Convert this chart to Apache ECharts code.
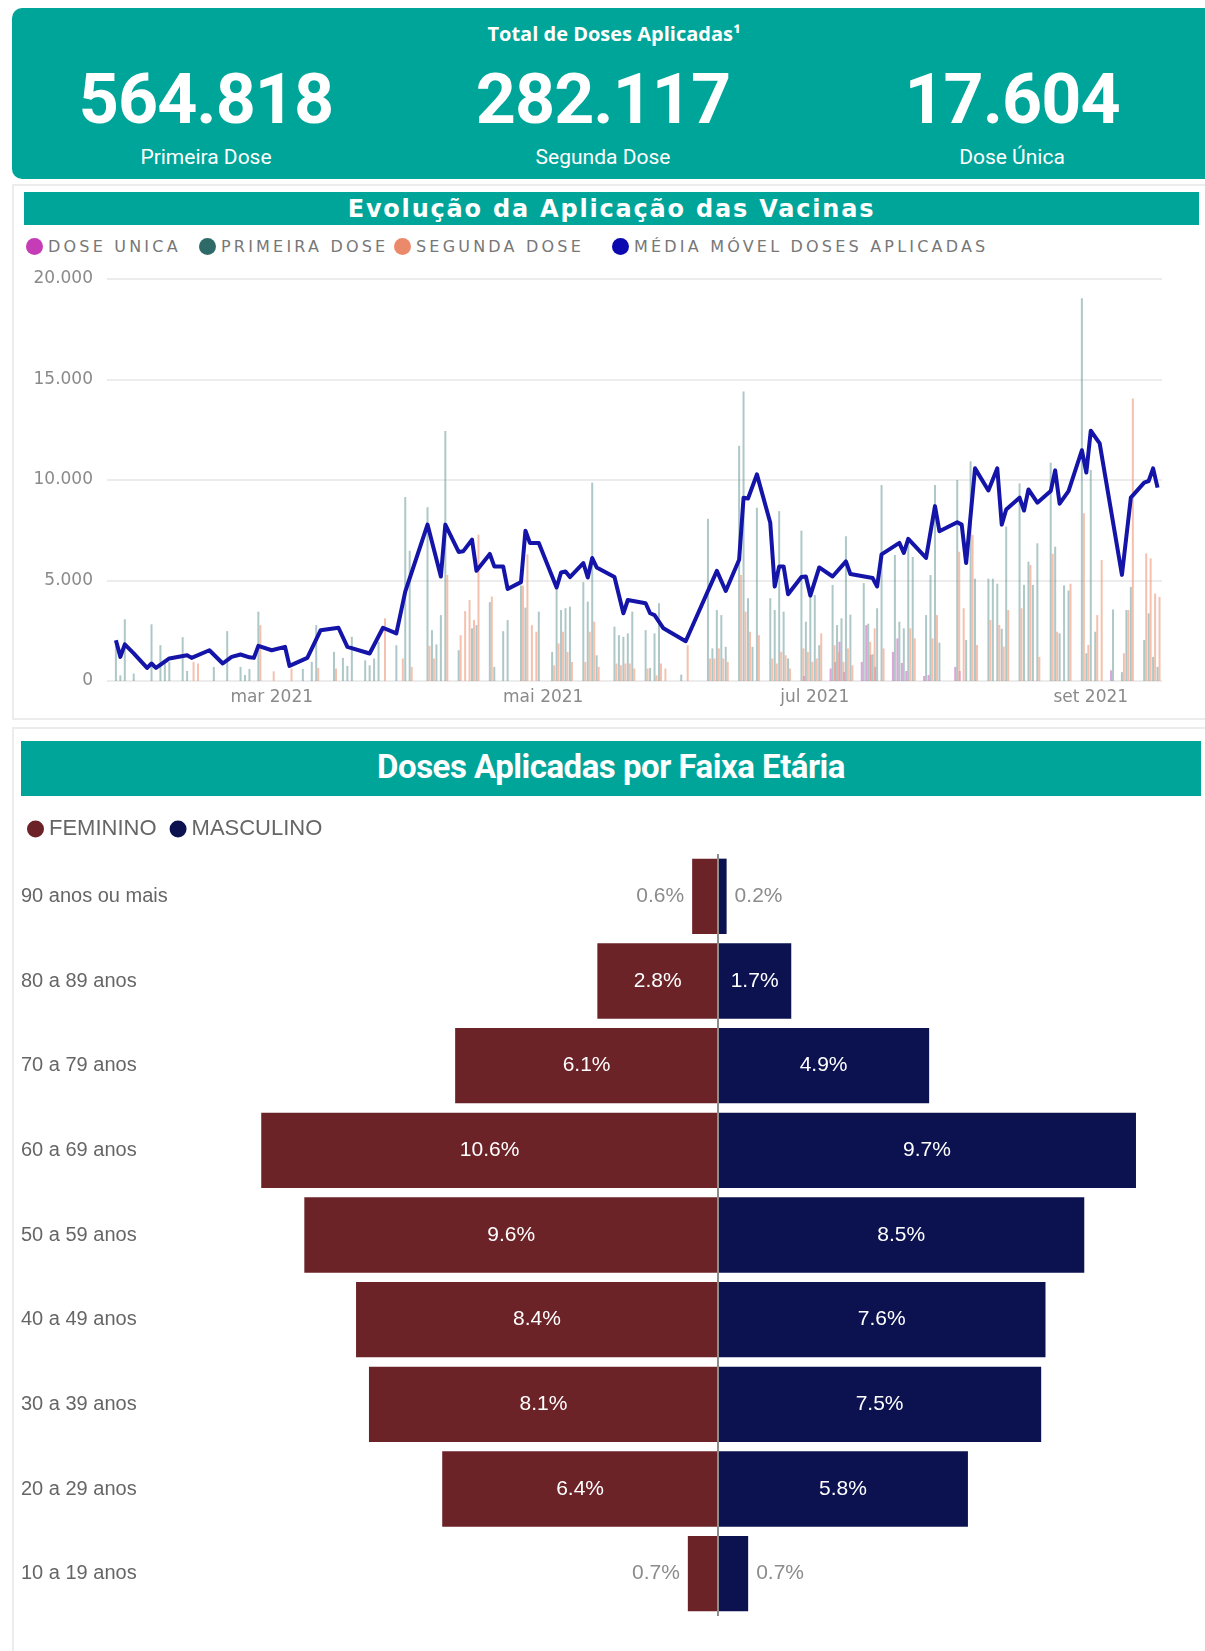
<!DOCTYPE html>
<html lang="pt">
<head>
  <meta charset="UTF-8">
  <meta name="viewport" content="width=device-width, initial-scale=1.0">
  <title>Vacinação - doses aplicadas</title>
  <style>
    body { margin: 0; background: #fff; }
    #page { position: relative; width: 1205px; height: 1651px; overflow: hidden; font-family: Roboto, sans-serif; }
    .teal { background: #00a59a; color: #fff; }
    #header { position: absolute; left: 12px; top: 8px; width: 1205px; height: 171px; border-radius: 10px; }
    .abs { position: absolute; text-align: center; color: #fff; white-space: nowrap; }
    .hd-title { left: 464px; width: 300px; top: 20px; line-height: 26px; font: bold 20px "Open Sans", sans-serif; }
    .kpi { width: 340px; top: 64px; line-height: 70px; font-weight: bold; font-size: 70px; letter-spacing: -1px; }
    .kpi-lbl { width: 340px; top: 144px; line-height: 26px; font-size: 21px; }
    .card { position: absolute; left: 12px; width: 1205px; border: 2px solid #ececec; box-sizing: border-box; }
    .bar-title { position: absolute; display: flex; align-items: center; justify-content: center; }
    #evo-title { left: 24px; top: 192px; width: 1175px; height: 33px; font: bold 24px "DejaVu Sans", sans-serif; letter-spacing: 1.8px; }
    #faixa-title { left: 21px; top: 741px; width: 1180px; height: 55px; padding-bottom: 5px; box-sizing: border-box; font: bold 33px Roboto, sans-serif; letter-spacing: -0.5px; }
    .leg { position: absolute; top: 236px; height: 20px; display: flex; align-items: center; font: 16px "DejaVu Sans", sans-serif; color: #777; letter-spacing: 3.2px; white-space: nowrap; }
    .leg i { display: inline-block; width: 17px; height: 17px; border-radius: 50%; margin-right: 5px; }
    #evo-chart { position: absolute; left: 0; top: 184px; width: 1205px; height: 535px; }
    #faixa-chart { position: absolute; left: 0; top: 800px; width: 1205px; height: 851px; }
  </style>
</head>
<body>
<div id="page">
  <div id="header" class="teal"></div>
  <div class="abs hd-title">Total de Doses Aplicadas¹</div>
  <div class="abs kpi" style="left:36px">564.818</div>
  <div class="abs kpi" style="left:433px">282.117</div>
  <div class="abs kpi" style="left:842px">17.604</div>
  <div class="abs kpi-lbl" style="left:36px">Primeira Dose</div>
  <div class="abs kpi-lbl" style="left:433px">Segunda Dose</div>
  <div class="abs kpi-lbl" style="left:842px">Dose Única</div>

  <div class="card" style="top:184px;height:536px"></div>
  <div id="evo-title" class="bar-title teal">Evolução da Aplicação das Vacinas</div>
  <div class="leg" style="left:26px"><i style="background:#c63cb6"></i>DOSE UNICA</div>
  <div class="leg" style="left:199px"><i style="background:#2e6b68"></i>PRIMEIRA DOSE</div>
  <div class="leg" style="left:394px"><i style="background:#ea8a6b"></i>SEGUNDA DOSE</div>
  <div class="leg" style="left:612px"><i style="background:#0a0ab0"></i>MÉDIA MÓVEL DOSES APLICADAS</div>
  <div id="evo-chart"></div>

  <div class="card" style="top:727px;height:940px"></div>
  <div id="faixa-title" class="bar-title teal">Doses Aplicadas por Faixa Etária</div>
  <div id="faixa-chart"></div>
</div>

<script src="https://cdn.jsdelivr.net/npm/echarts/dist/echarts.min.js"></script>
<script>
  // doses por dia
  const doseUnica = [
    ['2021-06-29',250],['2021-07-05',620],['2021-07-06',950],['2021-07-07',1950],['2021-07-08',450],
    ['2021-07-12',950],['2021-07-13',2780],['2021-07-14',1300],['2021-07-15',700],['2021-07-19',1450],
    ['2021-07-20',2120],['2021-07-21',900],['2021-07-22',500],['2021-07-26',250],['2021-07-27',300],
    ['2021-08-02',700],['2021-08-03',500],['2021-09-06',530]
  ]
  const primeiraDose = [
    ['2021-01-25',1950],['2021-01-26',280],['2021-01-27',3070],['2021-01-29',370],
    ['2021-02-02',2820],['2021-02-04',1780],['2021-02-05',950],['2021-02-06',950],['2021-02-09',2180],
    ['2021-02-10',500],['2021-02-16',700],['2021-02-19',2480],['2021-02-22',700],['2021-02-23',300],
    ['2021-02-24',600],['2021-02-26',3450],
    ['2021-03-08',600],['2021-03-10',950],['2021-03-11',2780],['2021-03-15',1450],['2021-03-17',1150],
    ['2021-03-18',750],['2021-03-19',2200],['2021-03-22',1030],['2021-03-23',780],['2021-03-24',1120],
    ['2021-03-25',1950],['2021-03-29',1780],['2021-03-31',9150],
    ['2021-04-01',6480],['2021-04-05',8650],['2021-04-06',2530],['2021-04-07',1820],['2021-04-08',3280],
    ['2021-04-09',12440],['2021-04-12',1530],['2021-04-15',2620],['2021-04-16',2780],['2021-04-19',3920],
    ['2021-04-20',700],['2021-04-22',2480],['2021-04-23',3030],['2021-04-26',4750],['2021-04-27',3650],
    ['2021-04-30',3450],
    ['2021-05-03',1450],['2021-05-04',4650],['2021-05-05',3530],['2021-05-06',3620],['2021-05-07',3700],
    ['2021-05-10',4920],['2021-05-11',3950],['2021-05-12',9870],['2021-05-13',1280],['2021-05-17',2700],
    ['2021-05-18',2280],['2021-05-19',2200],['2021-05-20',2370],['2021-05-21',3450],['2021-05-24',2530],
    ['2021-05-25',650],['2021-05-26',2370],['2021-05-27',3870],
    ['2021-06-01',320],['2021-06-07',8070],['2021-06-08',1620],['2021-06-09',3530],['2021-06-10',3280],
    ['2021-06-11',1700],['2021-06-14',11700],['2021-06-15',14400],['2021-06-16',4120],['2021-06-17',1700],
    ['2021-06-18',8620],['2021-06-21',4120],['2021-06-22',3530],['2021-06-23',8450],['2021-06-24',3450],
    ['2021-06-25',1120],['2021-06-28',7480],['2021-06-29',2950],['2021-06-30',4620],
    ['2021-07-01',4280],['2021-07-02',1780],['2021-07-05',4780],['2021-07-06',2780],['2021-07-07',3120],
    ['2021-07-08',7200],['2021-07-09',3300],['2021-07-12',4870],['2021-07-13',2850],['2021-07-14',1330],
    ['2021-07-15',3620],['2021-07-16',9750],['2021-07-19',6270],['2021-07-20',2950],['2021-07-21',2620],
    ['2021-07-22',7080],['2021-07-23',6170],['2021-07-26',3280],['2021-07-27',5270],['2021-07-28',9750],
    ['2021-07-29',1910],
    ['2021-08-02',10000],['2021-08-04',2040],['2021-08-05',10930],['2021-08-06',5090],['2021-08-09',5090],
    ['2021-08-10',5090],['2021-08-11',4840],['2021-08-12',2600],['2021-08-13',7680],['2021-08-16',9830],
    ['2021-08-17',4780],['2021-08-18',5940],['2021-08-19',4780],['2021-08-20',6850],['2021-08-23',10860],
    ['2021-08-24',6680],['2021-08-25',2370],['2021-08-26',4760],['2021-08-27',4500],['2021-08-30',19040],
    ['2021-08-31',1380],
    ['2021-09-01',10500],['2021-09-02',2450],['2021-09-06',3560],['2021-09-08',440],['2021-09-09',3530],
    ['2021-09-10',4680],['2021-09-13',2040],['2021-09-14',3370],['2021-09-15',1200],['2021-09-16',700]
  ]
  const segundaDose = [
    ['2021-02-11',950],['2021-02-12',870],['2021-02-26',2780],['2021-03-01',480],['2021-03-05',620],
    ['2021-03-11',650],['2021-03-15',620],['2021-03-26',3120],['2021-03-30',1120],['2021-04-01',700],
    ['2021-04-05',1750],['2021-04-06',1120],['2021-04-09',5280],['2021-04-12',2280],['2021-04-13',3480],
    ['2021-04-14',4030],['2021-04-15',3030],['2021-04-16',7280],['2021-04-19',4200],['2021-04-26',4750],
    ['2021-04-27',6300],['2021-04-28',2780],['2021-04-29',2450],['2021-05-03',780],['2021-05-04',1870],
    ['2021-05-05',2450],['2021-05-06',1450],['2021-05-07',950],['2021-05-10',950],['2021-05-11',2450],
    ['2021-05-12',2950],['2021-05-13',700],['2021-05-17',870],['2021-05-18',780],['2021-05-19',870],
    ['2021-05-20',870],['2021-05-21',620],['2021-05-24',620],['2021-05-26',280],['2021-05-27',870],
    ['2021-05-28',620],['2021-06-02',1780],['2021-06-07',1120],['2021-06-08',1120],['2021-06-09',1620],
    ['2021-06-10',1120],['2021-06-11',950],['2021-06-14',5280],['2021-06-15',3450],['2021-06-16',2450],
    ['2021-06-18',2280],['2021-06-21',1120],['2021-06-22',870],['2021-06-23',1450],['2021-06-24',1280],
    ['2021-06-25',620],['2021-06-28',1620],['2021-06-29',1450],['2021-06-30',950],['2021-07-01',1120],
    ['2021-07-02',2370],['2021-07-05',1780],['2021-07-06',1450],['2021-07-07',950],['2021-07-08',1620],
    ['2021-07-09',780],['2021-07-13',1950],['2021-07-14',2620],['2021-07-16',1620],['2021-07-22',2620],
    ['2021-07-23',2120],['2021-07-27',2120],['2021-07-28',3280],['2021-08-02',6430],['2021-08-03',3620],
    ['2021-08-05',7260],['2021-08-06',1790],['2021-08-09',3035],['2021-08-11',2790],['2021-08-12',1710],
    ['2021-08-13',3530],['2021-08-16',3620],['2021-08-18',5770],['2021-08-20',1200],['2021-08-23',6330],
    ['2021-08-24',2450],['2021-08-27',4840],['2021-08-30',8350],['2021-08-31',1790],['2021-09-02',3280],
    ['2021-09-03',6020],['2021-09-08',1380],['2021-09-09',3530],['2021-09-10',14060],['2021-09-13',6350],
    ['2021-09-14',6100],['2021-09-15',4350],['2021-09-16',4180]
  ]
  const mediaMovel = [
    ['2021-01-25',2030],['2021-01-26',1200],['2021-01-27',1820],['2021-01-29',1370],['2021-02-01',650],
    ['2021-02-02',870],['2021-02-03',650],['2021-02-06',1120],['2021-02-10',1280],['2021-02-11',1150],
    ['2021-02-15',1530],['2021-02-18',870],['2021-02-20',1200],['2021-02-22',1320],['2021-02-24',1180],
    ['2021-02-25',1150],['2021-02-26',1750],['2021-03-01',1530],['2021-03-04',1700],['2021-03-05',750],
    ['2021-03-09',1150],['2021-03-12',2530],['2021-03-16',2650],['2021-03-18',1700],['2021-03-23',1370],
    ['2021-03-26',2650],['2021-03-29',2370],['2021-03-31',4450],['2021-04-05',7780],['2021-04-08',5200],
    ['2021-04-09',7780],['2021-04-12',6420],['2021-04-13',6450],['2021-04-15',7030],['2021-04-16',5480],
    ['2021-04-19',6320],['2021-04-20',5700],['2021-04-22',5700],['2021-04-23',4580],['2021-04-26',4920],
    ['2021-04-27',7480],['2021-04-28',6870],['2021-04-30',6870],['2021-05-04',4650],['2021-05-05',5400],
    ['2021-05-06',5450],['2021-05-07',5170],['2021-05-10',5870],['2021-05-11',5150],['2021-05-12',6120],
    ['2021-05-13',5650],['2021-05-17',5170],['2021-05-19',3370],['2021-05-20',4030],['2021-05-24',3870],
    ['2021-05-25',3370],['2021-05-26',3280],['2021-05-28',2620],['2021-06-02',1980],['2021-06-09',5480],
    ['2021-06-11',4480],['2021-06-14',6030],['2021-06-15',9120],['2021-06-16',9080],['2021-06-18',10280],
    ['2021-06-21',7870],['2021-06-22',4700],['2021-06-23',5700],['2021-06-24',5700],['2021-06-25',4320],
    ['2021-06-28',5170],['2021-06-29',5200],['2021-06-30',4250],['2021-07-02',5650],['2021-07-05',5200],
    ['2021-07-08',5950],['2021-07-09',5320],['2021-07-14',5120],['2021-07-15',4700],['2021-07-16',6300],
    ['2021-07-20',6870],['2021-07-21',6370],['2021-07-22',7070],['2021-07-26',6120],['2021-07-28',8700],
    ['2021-07-29',7450],['2021-08-02',7900],['2021-08-03',7780],['2021-08-04',5870],['2021-08-06',10580],
    ['2021-08-09',9480],['2021-08-11',10580],['2021-08-12',7780],['2021-08-13',8530],['2021-08-16',9120],
    ['2021-08-17',8480],['2021-08-18',9530],['2021-08-20',8870],['2021-08-23',9450],['2021-08-24',10480],
    ['2021-08-25',8820],['2021-08-27',9450],['2021-08-30',11480],['2021-08-31',10370],['2021-09-01',12450],
    ['2021-09-03',11820],['2021-09-08',5280],['2021-09-10',9120],['2021-09-13',9870],['2021-09-14',9950],
    ['2021-09-15',10580],['2021-09-16',9620]
  ]
  const mesesLabel = ['2021-03-01', '2021-05-01', '2021-07-01', '2021-09-01']
  const mesesNome = ['jan', 'fev', 'mar', 'abr', 'mai', 'jun', 'jul', 'ago', 'set', 'out', 'nov', 'dez']

  // faixa etária (% das doses)
  const faixas = ['90 anos ou mais', '80 a 89 anos', '70 a 79 anos', '60 a 69 anos', '50 a 59 anos',
    '40 a 49 anos', '30 a 39 anos', '20 a 29 anos', '10 a 19 anos']
  const feminino = [0.6, 2.8, 6.1, 10.6, 9.6, 8.4, 8.1, 6.4, 0.7]
  const masculino = [0.2, 1.7, 4.9, 9.7, 8.5, 7.6, 7.5, 5.8, 0.7]

  // datas como timestamp local (eixo de valor)
  function ts(s) { return new Date(s + 'T00:00:00').getTime() }
  function toTs(arr) { return arr.map(d => [ts(d[0]), d[1]]) }

  const axisFont = { color: '#8a8a8a', fontSize: 17, fontFamily: 'DejaVu Sans' }

  function barSerie(name, data, color, opacity) {
    return {
      name: name, type: 'bar', data: toTs(data),
      barWidth: 2, barGap: '0%',
      itemStyle: { color: color, opacity: opacity }
    }
  }

  var faixa = echarts.init(document.getElementById('faixa-chart'))
  var evo = echarts.init(document.getElementById('evo-chart'))

  evo.setOption({
    animation: false,
    grid: { left: 107, right: 43, top: 95, bottom: 38 },
    xAxis: {
      type: 'value', min: ts('2021-01-23'), max: ts('2021-09-17'),
      axisLine: { show: false }, axisTick: { show: false }, splitLine: { show: false },
      axisLabel: {
        customValues: mesesLabel.map(ts), margin: 8, ...axisFont,
        formatter: v => { var d = new Date(v); return mesesNome[d.getMonth()] + ' ' + d.getFullYear() }
      }
    },
    yAxis: {
      type: 'value', min: 0, max: 20000, interval: 5000,
      axisLine: { show: false }, axisTick: { show: false },
      axisLabel: { margin: 14, ...axisFont, formatter: v => v === 0 ? '0' : v.toLocaleString('pt-BR') },
      splitLine: { lineStyle: { color: '#ececec', width: 2 } }
    },
    series: [
      barSerie('DOSE UNICA', doseUnica, '#c35ab7', 0.55),
      barSerie('PRIMEIRA DOSE', primeiraDose, '#5d9190', 0.5),
      barSerie('SEGUNDA DOSE', segundaDose, '#ef9f82', 0.65),
      {
        name: 'MÉDIA MÓVEL DOSES APLICADAS', type: 'line', data: toTs(mediaMovel),
        symbol: 'none', z: 5,
        lineStyle: { color: '#1414a8', width: 4, join: 'round' }
      }
    ]
  })

  // rótulo dentro da barra ou fora, quando a barra é estreita
  function faixaData(values, sign, side) {
    return values.map(v => ({
      value: sign * v,
      label: v < 1.5
        ? { position: side, distance: 8, color: '#8c8c8c' }
        : { position: 'inside', color: '#fff' }
    }))
  }

  faixa.setOption({
    animation: false,
    legend: {
      left: 22, top: 13, icon: 'circle', itemWidth: 17, itemHeight: 17, itemGap: 13,
      textStyle: { fontSize: 22, color: '#666', fontFamily: 'Liberation Sans' }
    },
    grid: { left: 244, right: 13, top: 54, bottom: 35 },
    xAxis: { type: 'value', min: -11, max: 11, show: false },
    yAxis: {
      type: 'category', data: faixas, inverse: true,
      axisLine: { show: false }, axisTick: { show: false },
      axisLabel: { align: 'left', margin: 223, fontSize: 20, color: '#666', fontFamily: 'Liberation Sans' }
    },
    series: [
      {
        name: 'FEMININO', type: 'bar', data: faixaData(feminino, -1, 'left'),
        barCategoryGap: '11%', barGap: '-100%',
        itemStyle: { color: '#6b2328' },
        label: { show: true, fontSize: 21, fontFamily: 'Liberation Sans', formatter: p => Math.abs(p.value).toFixed(1) + '%' },
        markLine: {
          silent: true, symbol: 'none', label: { show: false },
          lineStyle: { color: '#8c8c8c', width: 2, type: 'solid' },
          data: [{ xAxis: 0 }]
        }
      },
      {
        name: 'MASCULINO', type: 'bar', data: faixaData(masculino, 1, 'right'),
        barCategoryGap: '11%', barGap: '-100%',
        itemStyle: { color: '#0c1250' },
        label: { show: true, fontSize: 21, fontFamily: 'Liberation Sans', formatter: p => p.value.toFixed(1) + '%' }
      }
    ]
  })
</script>
</body>
</html>
